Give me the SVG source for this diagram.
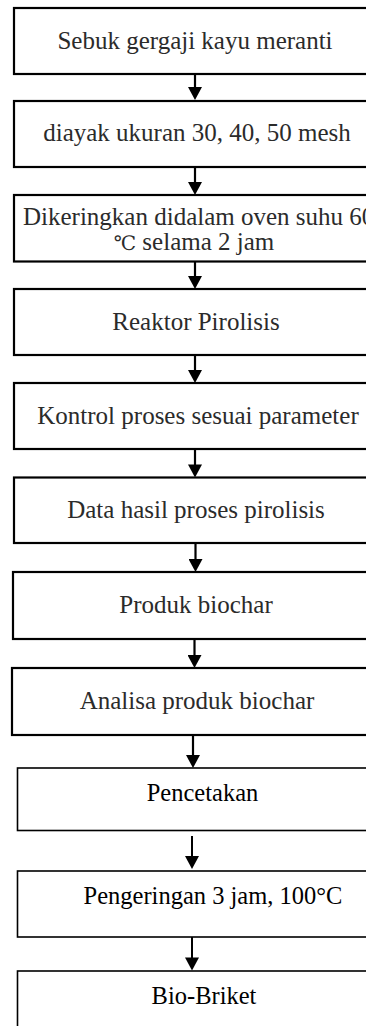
<svg xmlns="http://www.w3.org/2000/svg" width="366" height="1026" viewBox="0 0 366 1026">
<style>
.box{fill:#fff;stroke:#000;stroke-width:2.2}
.boxl{fill:#fff;stroke:#000;stroke-width:1.6}
.t{font-family:"Liberation Serif","Times New Roman","DejaVu Serif",serif;font-size:25px;fill:#2b2b2b;text-anchor:middle}
.tl{font-family:"Liberation Serif","Times New Roman","DejaVu Serif",serif;font-size:24.5px;fill:#000;text-anchor:middle}
.deg{font-family:"DejaVu Serif","Liberation Serif",serif;font-size:20px}
.c{stroke:#000;stroke-width:2.2;fill:none;marker-end:url(#ah)}
.cl{stroke:#000;stroke-width:2;fill:none;marker-end:url(#ah)}
</style>
<defs>
<marker id="ah" markerUnits="userSpaceOnUse" markerWidth="14" markerHeight="14" refX="7" refY="7" orient="auto" viewBox="0 0 13 14">
<path d="M0,0 L13,7 L0,14 z" fill="#000"/>
</marker>
</defs>
<rect width="366" height="1026" fill="#fff"/>
<g id="connectors">
<line class="c" x1="195" y1="74" x2="195" y2="94"/>
<line class="c" x1="195" y1="167" x2="195" y2="189"/>
<line class="c" x1="195" y1="261.5" x2="195" y2="283"/>
<line class="c" x1="195" y1="355" x2="195" y2="377"/>
<line class="c" x1="195" y1="449" x2="195" y2="471.5"/>
<line class="c" x1="195.5" y1="543" x2="195.5" y2="566"/>
<line class="c" x1="194.5" y1="639" x2="194.5" y2="662"/>
<line class="c" x1="193" y1="735" x2="193" y2="762"/>
<line class="cl" x1="192" y1="836" x2="192" y2="863"/>
<line class="cl" x1="192" y1="937" x2="192" y2="964.5"/>
</g>
<g id="n1"><rect class="box" x="14" y="8" width="370" height="66"/><text class="t" x="195" y="49">Sebuk gergaji kayu meranti</text></g>
<g id="n2"><rect class="box" x="14" y="101" width="370" height="66"/><text class="t" x="197" y="141">diayak ukuran 30, 40, 50 mesh</text></g>
<g id="n3"><rect class="box" x="14" y="195" width="370" height="66.5"/><text class="t" x="23" y="225" style="text-anchor:start">Dikeringkan didalam oven suhu 60</text><text class="t" x="194" y="250"><tspan class="deg">℃</tspan> selama 2 jam</text></g>
<g id="n4"><rect class="box" x="14" y="289" width="370" height="66"/><text class="t" x="196" y="330">Reaktor  Pirolisis</text></g>
<g id="n5"><rect class="box" x="14" y="383" width="370" height="66"/><text class="t" x="198" y="424">Kontrol proses sesuai parameter</text></g>
<g id="n6"><rect class="box" x="14" y="477.5" width="370" height="65.5"/><text class="t" x="196" y="518">Data hasil proses pirolisis</text></g>
<g id="n7"><rect class="box" x="13" y="572" width="370" height="67"/><text class="t" x="196" y="613">Produk biochar</text></g>
<g id="n8"><rect class="box" x="12" y="668" width="370" height="67"/><text class="t" x="197" y="709">Analisa produk biochar</text></g>
<g id="n9"><rect class="boxl" x="17.5" y="768" width="370" height="62.5"/><text class="tl" x="202.5" y="801">Pencetakan</text></g>
<g id="n10"><rect class="boxl" x="17.5" y="871" width="370" height="66"/><text class="tl" x="213" y="904">Pengeringan 3 jam, 100°C</text></g>
<g id="n11"><rect class="boxl" x="17.5" y="971" width="370" height="80"/><text class="tl" x="204" y="1004">Bio-Briket</text></g>
</svg>
